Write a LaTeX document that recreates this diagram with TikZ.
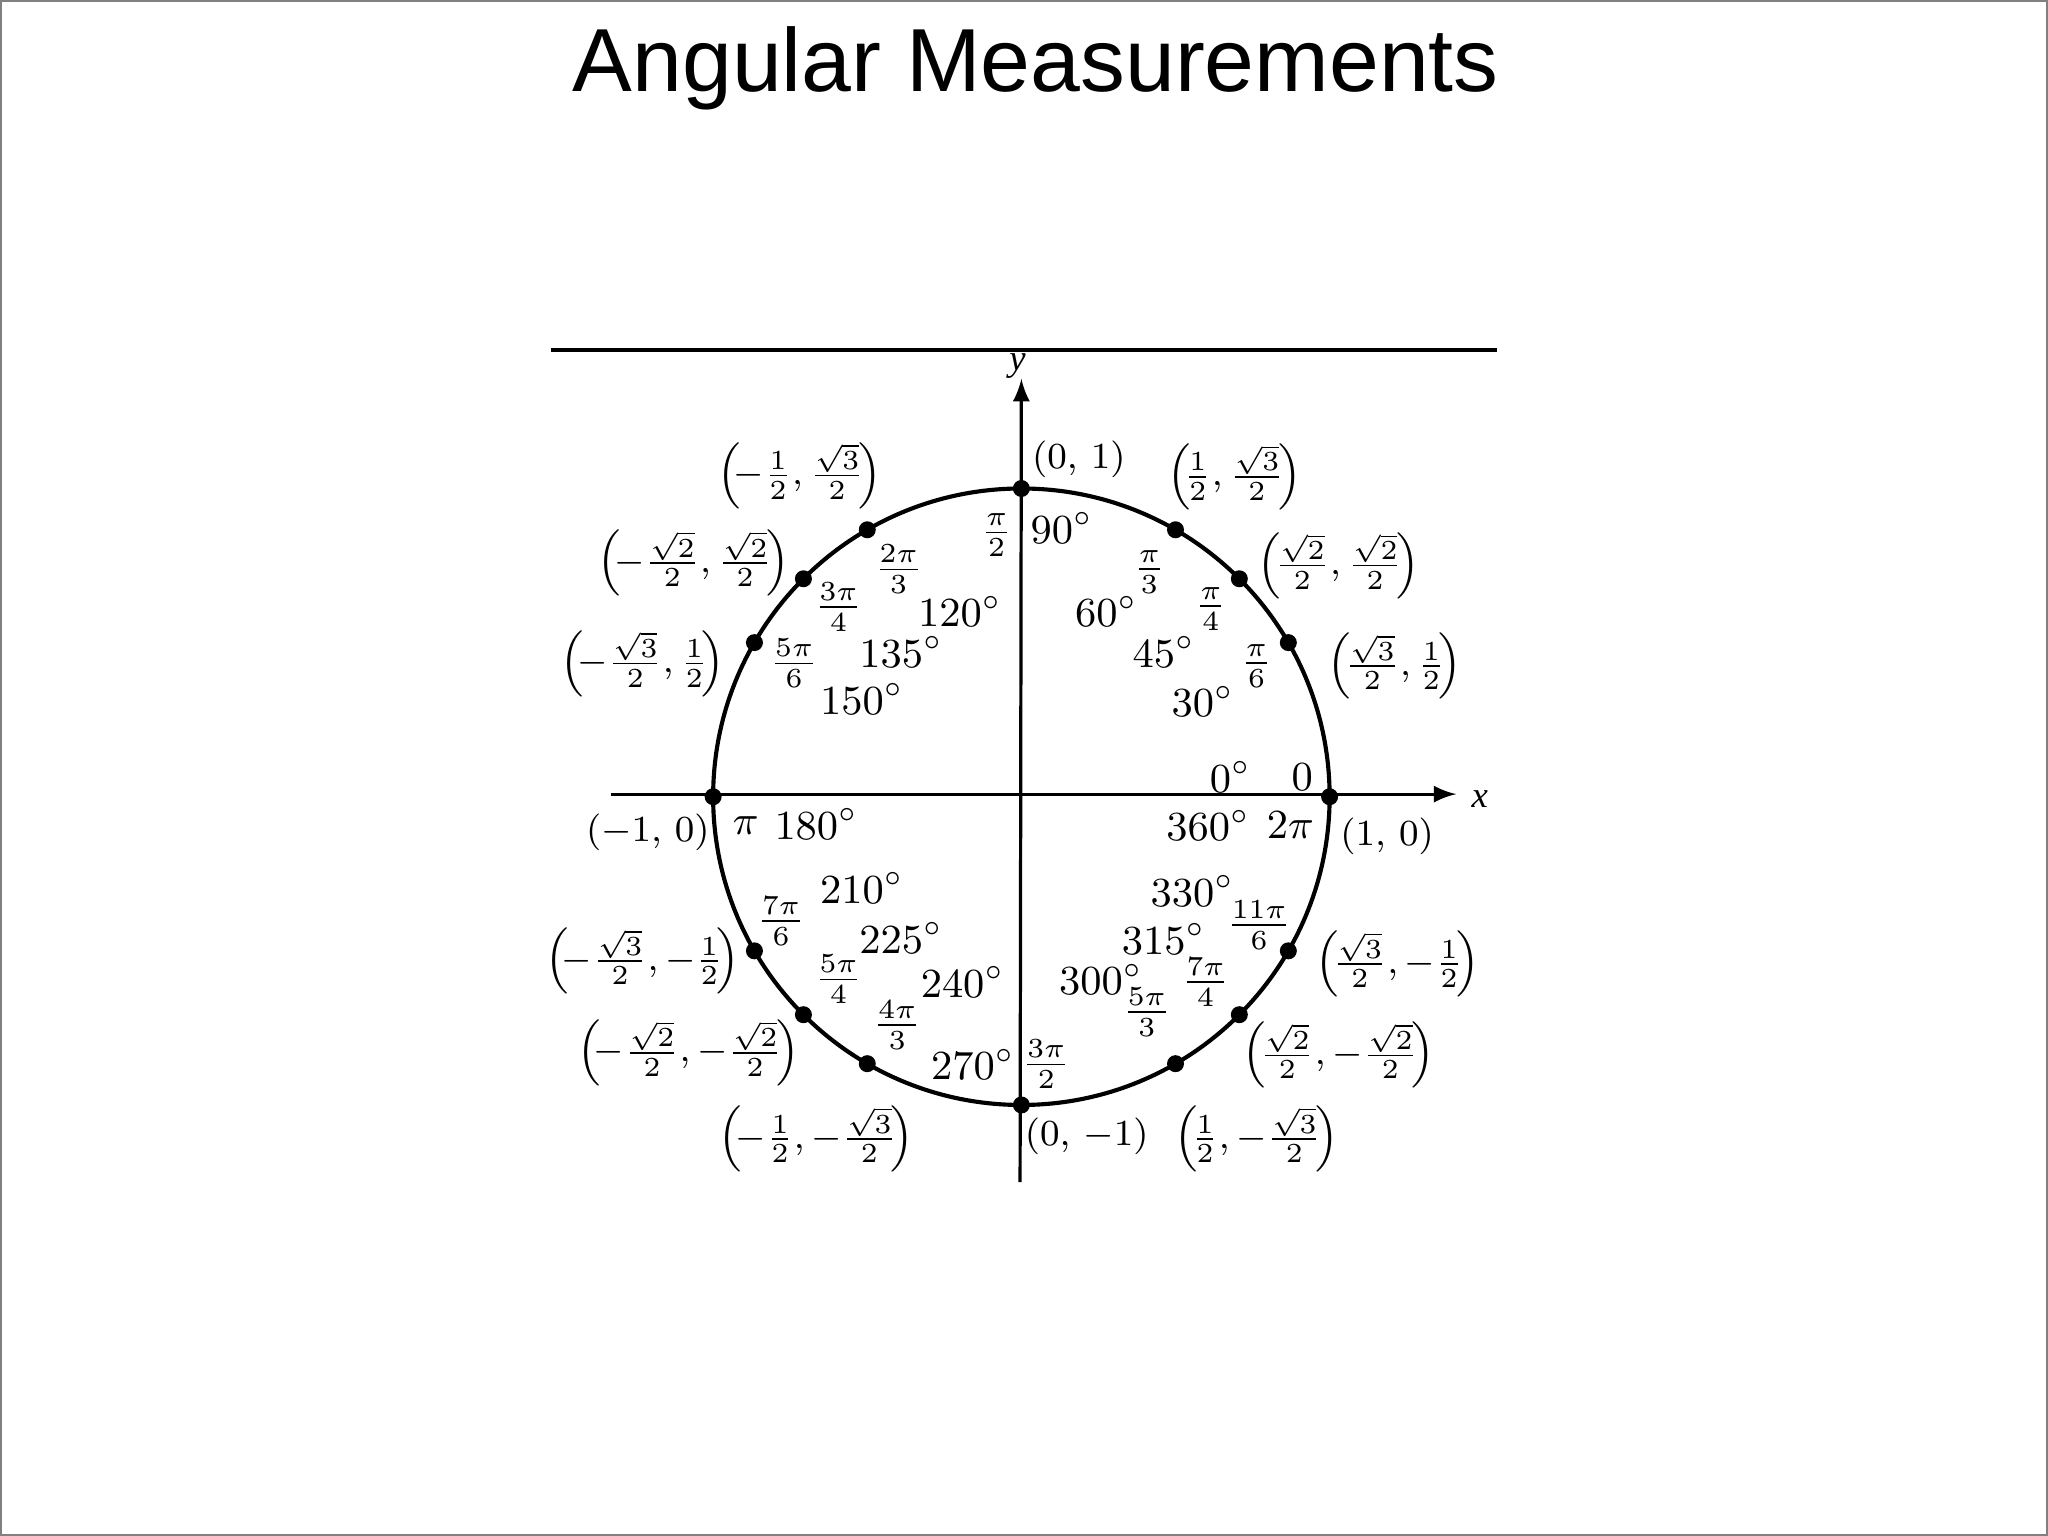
\documentclass[tikz,border=0pt]{standalone}
\usetikzlibrary{calc}
\usepackage{fontspec}
\setmainfont{Liberation Serif}
\newfontfamily\titlefont{Liberation Sans}
\usepackage{amsmath}
\tikzset{lbl/.style={inner sep=0pt,font=\fontsize{9}{11}\selectfont},
crd/.style={inner sep=0pt,font=\fontsize{8.5}{10}\selectfont},
dot/.style={circle,fill=black,inner sep=0pt,minimum size=0.13cm}}
\newcommand{\fr}[2]{\tfrac{#1}{#2}}
\begin{document}
\begin{tikzpicture}[x=0.01cm,y=-0.01cm]
\useasboundingbox (0,0) rectangle (1568,1176);
\draw[gray,line width=0.4pt] (1,1) rectangle (1567,1175);
\node[font=\titlefont\fontsize{19.5}{24}\selectfont] (title) at (793,52) {Angular Measurements};
\draw[line width=0.8pt] (422,268) -- (1146,268);
\coordinate (c) at (782,610);
\draw[line width=0.7pt,-latex] (468,608) -- (1115,608);
\draw[line width=0.7pt,-latex] (781,905) -- (782,290);
\node[lbl,font=\fontsize{8}{9}\selectfont\itshape] (xl) at (1133,612) {x};
\node[lbl,font=\fontsize{8}{9}\selectfont\itshape] (yl) at (779,280) {y};
\draw[line width=0.9pt] (c) circle (236);
\foreach \a in {0,30,45,60,90,120,135,150,180,210,225,240,270,300,315,330}
  \node[dot] (p\a) at ($(c)+(\a:236 and -236)$) {};
% coordinates
\node[crd] (q90) at (826,352) {$(0,\,1)$};
\node[crd] (q60) at (945,365) {$\left(\!\fr12,\fr{\sqrt3}2\!\right)$};
\node[crd] (q45) at (1025,433) {$\left(\!\fr{\sqrt2}2,\fr{\sqrt2}2\!\right)$};
\node[crd] (q30) at (1068,510) {$\left(\!\fr{\sqrt3}2,\fr12\!\right)$};
\node[crd] (q0) at (1062,640) {$(1,\,0)$};
\node[crd] (q330) at (1070,738) {$\left(\!\fr{\sqrt3}2,-\fr12\!\right)$};
\node[crd] (q315) at (1025,808) {$\left(\!\fr{\sqrt2}2,-\fr{\sqrt2}2\!\right)$};
\node[crd] (q300) at (962,872) {$\left(\!\fr12,-\fr{\sqrt3}2\!\right)$};
\node[crd] (q270) at (832,870) {$(0,\,-1)$};
\node[crd] (q240) at (625,872) {$\left(\!-\fr12,-\fr{\sqrt3}2\!\right)$};
\node[crd] (q225) at (527,806) {$\left(\!-\fr{\sqrt2}2,-\fr{\sqrt2}2\!\right)$};
\node[crd] (q210) at (492,736) {$\left(\!-\fr{\sqrt3}2,-\fr12\!\right)$};
\node[crd] (q180) at (496,637) {$(-1,\,0)$};
\node[crd] (q150) at (492,508) {$\left(\!-\fr{\sqrt3}2,\fr12\!\right)$};
\node[crd] (q135) at (531,431) {$\left(\!-\fr{\sqrt2}2,\fr{\sqrt2}2\!\right)$};
\node[crd] (q120) at (612,364) {$\left(\!-\fr12,\fr{\sqrt3}2\!\right)$};
% angles
\node[lbl] (r90) at (763,410) {$\fr{\pi}{2}$};
\node[lbl] (d90) at (813,404) {$90^\circ$};
\node[lbl] (r60) at (880,438) {$\fr{\pi}{3}$};
\node[lbl] (d60) at (847,468) {$60^\circ$};
\node[lbl] (r45) at (927,466) {$\fr{\pi}{4}$};
\node[lbl] (d45) at (891,499) {$45^\circ$};
\node[lbl] (r30) at (962,510) {$\fr{\pi}{6}$};
\node[lbl] (d30) at (921,537) {$30^\circ$};
\node[lbl] (d0) at (942,595) {$0^\circ$};
\node[lbl] (r0) at (997,595) {$0$};
\node[lbl] (d360) at (925,632) {$360^\circ$};
\node[lbl] (r360) at (988,632) {$2\pi$};
\node[lbl] (d330) at (913,682) {$330^\circ$};
\node[lbl] (r330) at (964,708) {$\fr{11\pi}{6}$};
\node[lbl] (d315) at (891,719) {$315^\circ$};
\node[lbl] (r315) at (923,752) {$\fr{7\pi}{4}$};
\node[lbl] (d300) at (843,750) {$300^\circ$};
\node[lbl] (r300) at (878,775) {$\fr{5\pi}{3}$};
\node[lbl] (r270) at (801,815) {$\fr{3\pi}{2}$};
\node[lbl] (d270) at (745,815) {$270^\circ$};
\node[lbl] (r240) at (687,785) {$\fr{4\pi}{3}$};
\node[lbl] (d240) at (737,752) {$240^\circ$};
\node[lbl] (r225) at (642,750) {$\fr{5\pi}{4}$};
\node[lbl] (d225) at (690,718) {$225^\circ$};
\node[lbl] (r210) at (598,705) {$\fr{7\pi}{6}$};
\node[lbl] (d210) at (660,680) {$210^\circ$};
\node[lbl] (r180) at (571,632) {$\pi$};
\node[lbl] (d180) at (625,631) {$180^\circ$};
\node[lbl] (r150) at (608,508) {$\fr{5\pi}{6}$};
\node[lbl] (d150) at (660,535) {$150^\circ$};
\node[lbl] (r135) at (642,465) {$\fr{3\pi}{4}$};
\node[lbl] (d135) at (690,499) {$135^\circ$};
\node[lbl] (r120) at (688,436) {$\fr{2\pi}{3}$};
\node[lbl] (d120) at (735,468) {$120^\circ$};
\end{tikzpicture}
\end{document}
